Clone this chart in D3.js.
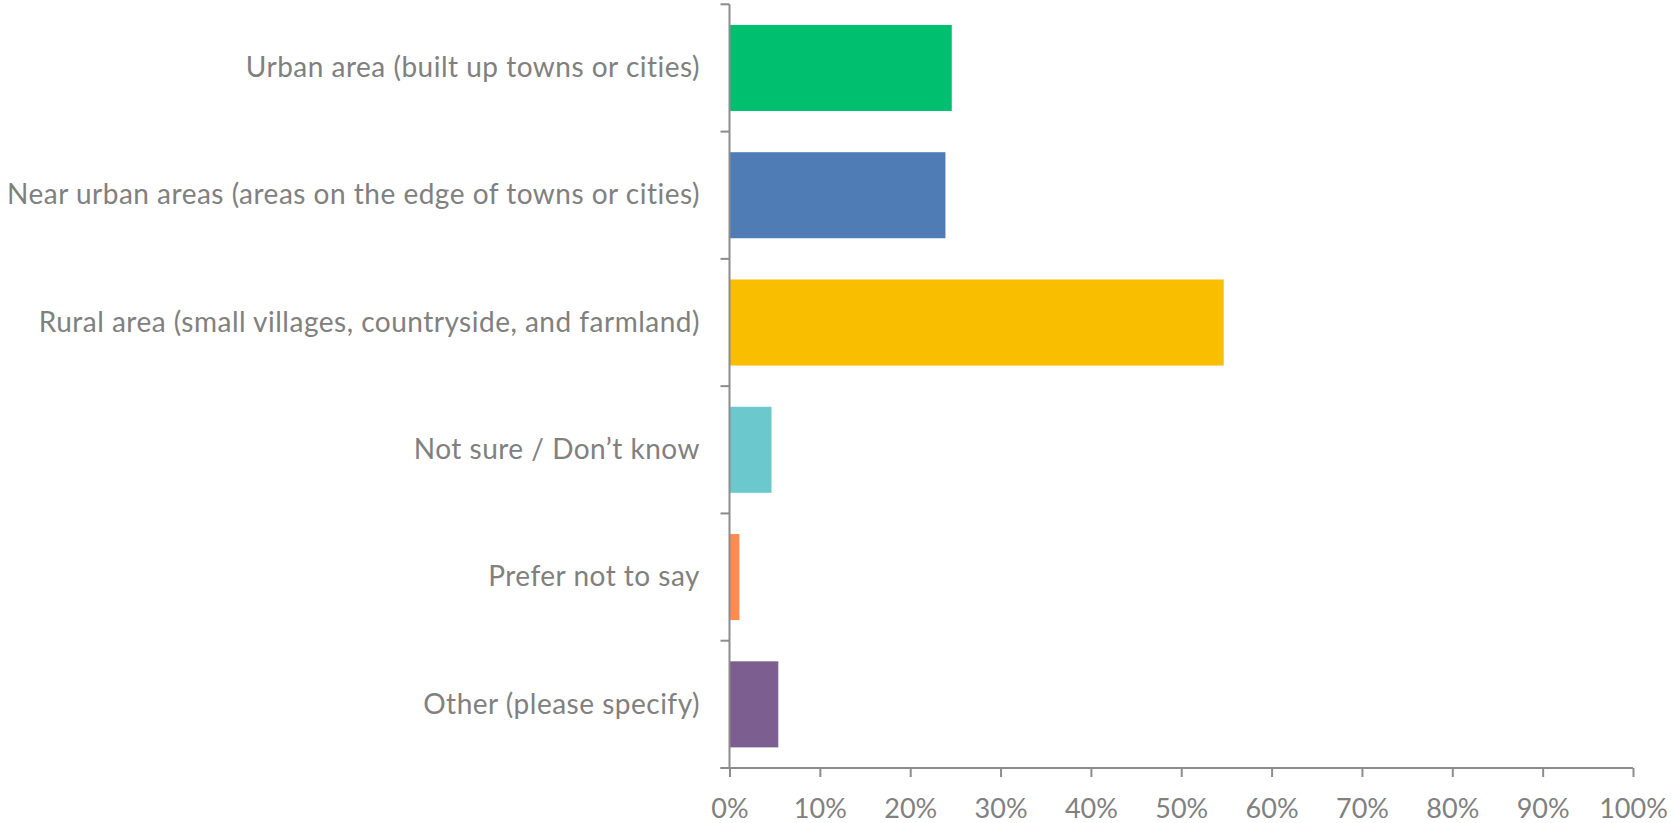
<!DOCTYPE html>
<html>
<head>
<meta charset="utf-8">
<script src="https://cdn.jsdelivr.net/npm/d3@7"></script>
<style>
html,body{margin:0;padding:0;background:#fff;}
svg{display:block;}
</style>
</head>
<body>
<svg id="chart" width="1671" height="823"></svg>
<script>
const categories = [
  "Urban area (built up towns or cities)",
  "Near urban areas (areas on the edge of towns or cities)",
  "Rural area (small villages, countryside, and farmland)",
  "Not sure / Don\u2019t know",
  "Prefer not to say",
  "Other (please specify)"
];
const values = [24.6, 23.9, 54.7, 4.65, 1.1, 5.4];
const colors = ["#00BF6F", "#507CB6", "#F9BE00", "#6BC8CD", "#FF8B4F", "#7D5E90"];
const xTicks = [0, 10, 20, 30, 40, 50, 60, 70, 80, 90, 100];

(function () {
const svg = d3.select("#chart");
const mLeft = 729.5, mRight = 1633, mTop = 4.3, mBottom = 768;
const fontFam = "Lato, 'Open Sans', sans-serif";
const textColor = "#808080";
const axisColor = "#8c8c8c";

const x = d3.scaleLinear().domain([0, 100]).range([mLeft, mRight]);
const y = d3.scaleBand().domain(categories).range([mTop, mBottom]).paddingInner(0.324).paddingOuter(0.162);

// bars
svg.append("g").selectAll("rect").data(categories).join("rect")
  .attr("x", x(0))
  .attr("y", d => y(d))
  .attr("width", (d, i) => x(values[i]) - x(0))
  .attr("height", y.bandwidth())
  .attr("fill", (d, i) => colors[i]);

// y axis (band boundaries as ticks)
const yAxisG = svg.append("g");
yAxisG.append("line").attr("x1", mLeft).attr("x2", mLeft).attr("y1", mTop).attr("y2", mBottom)
  .attr("stroke", axisColor).attr("stroke-width", 2);
const step = y.step();
const boundaries = d3.range(categories.length + 1).map(i => mTop + i * step);
yAxisG.selectAll("line.tick").data(boundaries).join("line").attr("class", "tick")
  .attr("x1", mLeft - 9).attr("x2", mLeft).attr("y1", d => d).attr("y2", d => d)
  .attr("stroke", axisColor).attr("stroke-width", 2);
yAxisG.selectAll("text").data(categories).join("text")
  .attr("x", 700)
  .attr("y", d => y(d) + y.bandwidth() / 2)
  .attr("dy", "0.33em")
  .attr("text-anchor", "end")
  .attr("fill", textColor)
  .style("font-family", fontFam)
  .style("font-size", "28px")
  .style("letter-spacing", "0.5px")
  .text(d => d);

// x axis
const xAxis = d3.axisBottom(x).tickValues(xTicks).tickFormat(d => d + "%").tickSize(9).tickPadding(22);
const xg = svg.append("g").attr("transform", `translate(0,${mBottom})`).call(xAxis);
xg.select(".domain").attr("stroke", axisColor).attr("stroke-width", 2).attr("d", `M${mLeft - 9},0H${mRight}`);
xg.selectAll(".tick line").attr("stroke", axisColor).attr("stroke-width", 2);
xg.selectAll(".tick text").attr("fill", textColor).style("font-family", fontFam).style("font-size", "27px");
})();
</script>
</body>
</html>
